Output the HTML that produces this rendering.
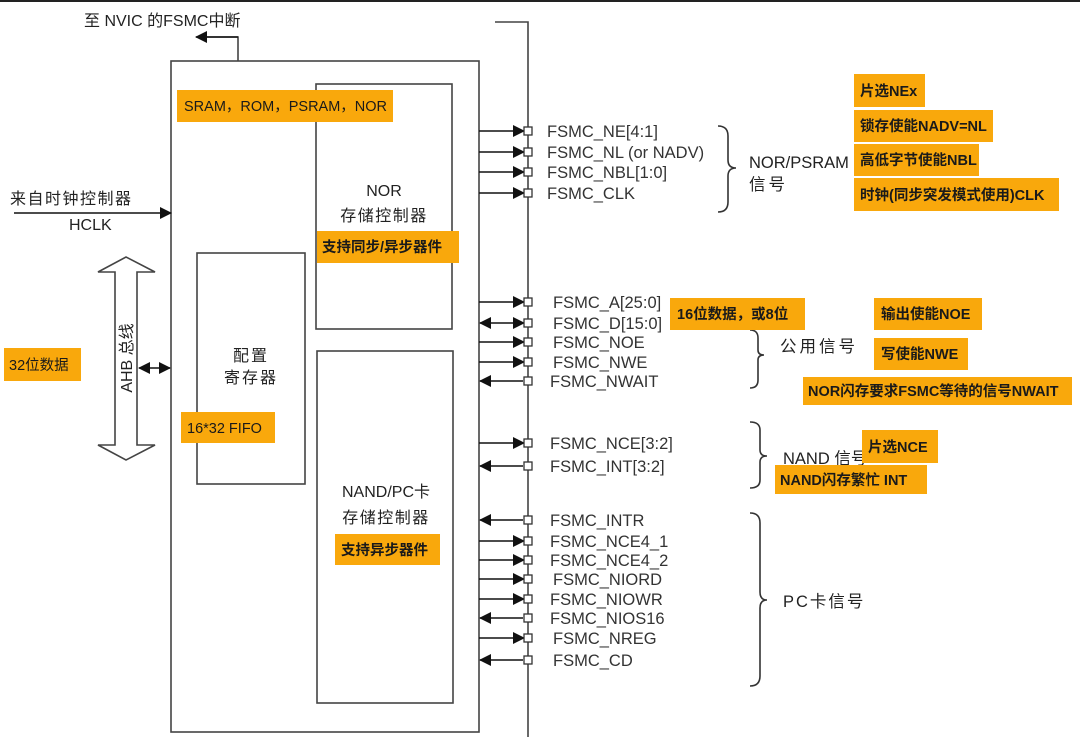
<!DOCTYPE html>
<html><head><meta charset="utf-8"><style>
html,body{margin:0;padding:0;background:#fff;}
svg{display:block;}
text{font-family:"Liberation Sans","Noto Sans CJK SC",sans-serif;fill:#222;}
.o{fill:#f9a80c;}
.ot{font-size:14.5px;fill:#1a1a1a;}
.s{font-size:16.5px;fill:#333;}
</style></head><body>
<svg width="1080" height="737" viewBox="0 0 1080 737" xmlns="http://www.w3.org/2000/svg">
<defs>
<marker id="ah" markerWidth="12" markerHeight="12" refX="11" refY="6" orient="auto" markerUnits="userSpaceOnUse"><path d="M0,0 L12,6 L0,12 z" fill="#111"/></marker>
<marker id="as" markerWidth="12" markerHeight="12" refX="1" refY="6" orient="auto" markerUnits="userSpaceOnUse"><path d="M12,0 L0,6 L12,12 z" fill="#111"/></marker>
</defs>
<rect x="0" y="0" width="1080" height="2" fill="#222"/>
<g fill="none" stroke="#444" stroke-width="1.6">
<rect x="171" y="61" width="308" height="671"/>
<rect x="316" y="84" width="136" height="245"/>
<rect x="317" y="351" width="136" height="352"/>
<rect x="197" y="253" width="108" height="231"/>
<polyline points="495,22 528,22 528,737"/>
<polyline points="238,61 238,37 205,37"/>
<path d="M115,272 L98,272 L126,257 L155,272 L137,272 L137,445 L155,445 L126,460 L98,445 L115,445 Z"/>
</g>
<line x1="238" y1="37" x2="196" y2="37" stroke="#111" stroke-width="1.6" marker-end="url(#ah)"/>
<line x1="14" y1="213" x2="171" y2="213" stroke="#111" stroke-width="1.6" marker-end="url(#ah)"/>
<line x1="139" y1="368" x2="170" y2="368" stroke="#111" stroke-width="1.6" marker-end="url(#ah)" marker-start="url(#as)"/>
<text x="84" y="26" font-size="16">至 NVIC 的FSMC中断</text>
<text x="10" y="204" font-size="16" letter-spacing="1.5">来自时钟控制器</text>
<text x="69" y="230" font-size="16">HCLK</text>
<text transform="translate(132,358) rotate(-90)" text-anchor="middle" font-size="16">AHB 总线</text>
<text x="384" y="196" font-size="16" text-anchor="middle">NOR</text>
<text x="384" y="221" font-size="16" text-anchor="middle" letter-spacing="1.5">存储控制器</text>
<text x="251" y="361" font-size="16" text-anchor="middle" letter-spacing="2">配置</text>
<text x="251" y="383" font-size="16" text-anchor="middle" letter-spacing="2">寄存器</text>
<text x="386" y="497" font-size="16" text-anchor="middle">NAND/PC卡</text>
<text x="386" y="523" font-size="16" text-anchor="middle" letter-spacing="1.5">存储控制器</text>
<g stroke="#111" stroke-width="1.6">
<line x1="479" y1="131" x2="524" y2="131" marker-end="url(#ah)"/>
<line x1="479" y1="152" x2="524" y2="152" marker-end="url(#ah)"/>
<line x1="479" y1="172" x2="524" y2="172" marker-end="url(#ah)"/>
<line x1="479" y1="193" x2="524" y2="193" marker-end="url(#ah)"/>
<line x1="479" y1="302" x2="524" y2="302" marker-end="url(#ah)"/>
<line x1="480" y1="323" x2="524" y2="323" marker-end="url(#ah)" marker-start="url(#as)"/>
<line x1="479" y1="342" x2="524" y2="342" marker-end="url(#ah)"/>
<line x1="479" y1="362" x2="524" y2="362" marker-end="url(#ah)"/>
<line x1="523" y1="381" x2="480" y2="381" marker-end="url(#ah)"/>
<line x1="479" y1="443" x2="524" y2="443" marker-end="url(#ah)"/>
<line x1="523" y1="466" x2="480" y2="466" marker-end="url(#ah)"/>
<line x1="523" y1="520" x2="480" y2="520" marker-end="url(#ah)"/>
<line x1="479" y1="541" x2="524" y2="541" marker-end="url(#ah)"/>
<line x1="479" y1="560" x2="524" y2="560" marker-end="url(#ah)"/>
<line x1="479" y1="579" x2="524" y2="579" marker-end="url(#ah)"/>
<line x1="479" y1="599" x2="524" y2="599" marker-end="url(#ah)"/>
<line x1="523" y1="618" x2="480" y2="618" marker-end="url(#ah)"/>
<line x1="479" y1="638" x2="524" y2="638" marker-end="url(#ah)"/>
<line x1="523" y1="660" x2="480" y2="660" marker-end="url(#ah)"/>
</g>
<g fill="#fff" stroke="#333" stroke-width="1.3">
<rect x="524" y="127" width="8" height="8"/><rect x="524" y="148" width="8" height="8"/><rect x="524" y="168" width="8" height="8"/><rect x="524" y="189" width="8" height="8"/>
<rect x="524" y="298" width="8" height="8"/><rect x="524" y="319" width="8" height="8"/><rect x="524" y="338" width="8" height="8"/><rect x="524" y="358" width="8" height="8"/><rect x="524" y="377" width="8" height="8"/>
<rect x="524" y="439" width="8" height="8"/><rect x="524" y="462" width="8" height="8"/>
<rect x="524" y="516" width="8" height="8"/><rect x="524" y="537" width="8" height="8"/><rect x="524" y="556" width="8" height="8"/><rect x="524" y="575" width="8" height="8"/><rect x="524" y="595" width="8" height="8"/><rect x="524" y="614" width="8" height="8"/><rect x="524" y="634" width="8" height="8"/><rect x="524" y="656" width="8" height="8"/>
</g>
<g>
<text x="547" y="137" class="s">FSMC_NE[4:1]</text>
<text x="547" y="158" class="s">FSMC_NL (or NADV)</text>
<text x="547" y="178" class="s">FSMC_NBL[1:0]</text>
<text x="547" y="199" class="s">FSMC_CLK</text>
<text x="553" y="308" class="s">FSMC_A[25:0]</text>
<text x="553" y="329" class="s">FSMC_D[15:0]</text>
<text x="553" y="348" class="s">FSMC_NOE</text>
<text x="553" y="368" class="s">FSMC_NWE</text>
<text x="550" y="387" class="s">FSMC_NWAIT</text>
<text x="550" y="449" class="s">FSMC_NCE[3:2]</text>
<text x="550" y="472" class="s">FSMC_INT[3:2]</text>
<text x="550" y="526" class="s">FSMC_INTR</text>
<text x="550" y="547" class="s">FSMC_NCE4_1</text>
<text x="550" y="566" class="s">FSMC_NCE4_2</text>
<text x="553" y="585" class="s">FSMC_NIORD</text>
<text x="550" y="605" class="s">FSMC_NIOWR</text>
<text x="550" y="624" class="s">FSMC_NIOS16</text>
<text x="553" y="644" class="s">FSMC_NREG</text>
<text x="553" y="666" class="s">FSMC_CD</text>
</g>
<g fill="none" stroke="#333" stroke-width="1.6">
<path d="M718,126 Q728,126 728,136 L728,160 Q728,168 736,168 Q728,168 728,176 L728,202 Q728,212 718,212"/>
<path d="M750,330 Q758,330 758,338 L758,350 Q758,355 764,355 Q758,355 758,360 L758,380 Q758,388 750,388"/>
<path d="M750,422 Q760,422 760,430 L760,450 Q760,456 767,456 Q760,456 760,462 L760,480 Q760,488 750,488"/>
<path d="M750,513 Q760,513 760,523 L760,592 Q760,600 767,600 Q760,600 760,608 L760,676 Q760,686 750,686"/>
</g>
<text x="749" y="168" font-size="16.5">NOR/PSRAM</text>
<text x="749" y="190" font-size="16.5" letter-spacing="3">信号</text>
<text x="780" y="352" font-size="16.5" letter-spacing="3">公用信号</text>
<text x="783" y="464" font-size="16.5">NAND 信号</text>
<text x="783" y="607" font-size="16.5" letter-spacing="2">PC卡信号</text>
<rect class="o" x="177" y="90" width="216" height="32"/><text class="ot" x="184" y="111">SRAM，ROM，PSRAM，NOR</text>
<rect class="o" x="317" y="231" width="142" height="32"/><text class="ot" x="322" y="252" font-weight="bold">支持同步/异步器件</text>
<rect class="o" x="4" y="348" width="77" height="33"/><text class="ot" x="9" y="370">32位数据</text>
<rect class="o" x="181" y="412" width="94" height="31"/><text class="ot" x="187" y="433">16*32 FIFO</text>
<rect class="o" x="335" y="534" width="105" height="31"/><text class="ot" x="341" y="555" font-weight="bold">支持异步器件</text>
<rect class="o" x="854" y="74" width="71" height="33"/><text class="ot" x="860" y="96" font-weight="bold">片选NEx</text>
<rect class="o" x="854" y="110" width="139" height="32"/><text class="ot" x="860" y="131" font-weight="bold">锁存使能NADV=NL</text>
<rect class="o" x="854" y="144" width="125" height="32"/><text class="ot" x="860" y="165" font-weight="bold">高低字节使能NBL</text>
<rect class="o" x="854" y="178" width="205" height="33"/><text class="ot" x="860" y="200" font-weight="bold">时钟(同步突发模式使用)CLK</text>
<rect class="o" x="670" y="298" width="135" height="32"/><text class="ot" x="677" y="319" font-weight="bold">16位数据，或8位</text>
<rect class="o" x="874" y="298" width="108" height="32"/><text class="ot" x="881" y="319" font-weight="bold">输出使能NOE</text>
<rect class="o" x="874" y="338" width="94" height="32"/><text class="ot" x="881" y="359" font-weight="bold">写使能NWE</text>
<rect class="o" x="803" y="377" width="269" height="28"/><text class="ot" x="808" y="396" font-weight="bold" font-size="13.5">NOR闪存要求FSMC等待的信号NWAIT</text>
<rect class="o" x="862" y="430" width="76" height="33"/><text class="ot" x="868" y="452" font-weight="bold">片选NCE</text>
<rect class="o" x="775" y="465" width="152" height="29"/><text class="ot" x="780" y="485" font-weight="bold" font-size="13.5">NAND闪存繁忙 INT</text>
</svg>
</body></html>
